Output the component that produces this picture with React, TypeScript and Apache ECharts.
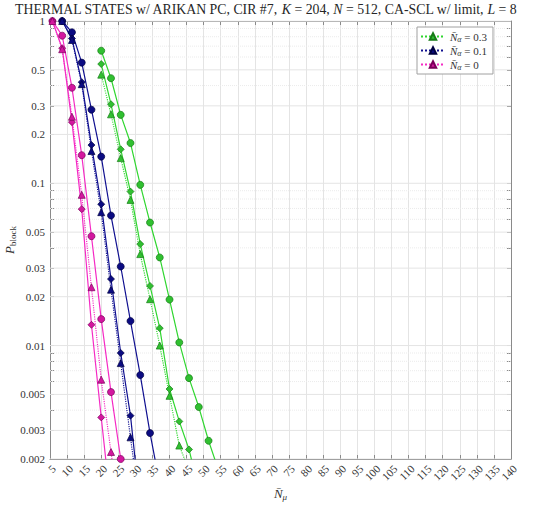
import React, { useEffect, useRef } from "react";
import * as echarts from "echarts";

// x positions of the evaluation points (N̄_μ)
const NMU = [5.71, 8.57, 11.43, 14.29, 17.14, 20, 22.86, 25.71, 28.57, 31.43, 34.29, 37.14, 40, 42.86, 45.71, 48.57, 51.43, 54.29];

// N̄_α = 0  (magenta)
const A0_START = 0;
const A0_CIRCLE = [1, 0.812, 0.388, 0.149, 0.0472, 0.01456, 0.00517, 0.002];
const A0_DIAMOND = [1, 0.68, 0.238, 0.0693, 0.01343, 0.00361, 0.001];
const A0_TRIANGLE = [1, 0.67, 0.257, 0.0849, 0.0229, 0.00616, 0.00221, 0.0008];

// N̄_α = 0.1 (navy)
const A1_START = 1;
const A1_CIRCLE = [1, 0.852, 0.554, 0.284, 0.146, 0.0633, 0.0307, 0.01416, 0.00658, 0.00289, 0.0014];
const A1_DIAMOND = [1, 0.78, 0.42, 0.172, 0.0743, 0.0257, 0.009, 0.0037, 0.001];
const A1_TRIANGLE = [1, 0.764, 0.408, 0.158, 0.0664, 0.0221, 0.0078, 0.00272, 0.00095];

// N̄_α = 0.3 (green)
const A3_START = 5;
const A3_CIRCLE = [0.656, 0.444, 0.264, 0.177, 0.0978, 0.0573, 0.0349, 0.0192, 0.01045, 0.0063, 0.00418, 0.00259, 0.00172];
const A3_DIAMOND = [0.543, 0.307, 0.162, 0.0889, 0.0422, 0.0233, 0.0128, 0.0054, 0.00341, 0.00229, 0.0013];
const A3_TRIANGLE = [0.467, 0.266, 0.143, 0.079, 0.0366, 0.0193, 0.01, 0.0049, 0.00242, 0.0017];

const X_RANGE = [5, 140];
const Y_MAJOR = [1, 0.5, 0.3, 0.2, 0.1, 0.05, 0.03, 0.02, 0.01, 0.005, 0.003, 0.002];
const Y_MINOR = [0.9, 0.8, 0.7, 0.6, 0.4, 0.09, 0.08, 0.07, 0.06, 0.04, 0.009, 0.008, 0.007, 0.006, 0.004];
const Y_ALL = [...Y_MAJOR, ...Y_MINOR];

const LEGEND_NAMES = ["α0.3", "α0.1", "α0"];
const LEGEND_VALUES = ["0.3", "0.1", "0"];

const SERIF = "'Liberation Serif', 'DejaVu Serif', serif";

const GREEN = { line: "#2fd62f", fill: "#30c030", edge: "#167a16" };
const NAVY = { line: "#101090", fill: "#0b0b82", edge: "#000040" };
const MAGENTA = { line: "#f52ac4", fill: "#d3179f", edge: "#7a005a" };

function mk(name: string, start: number, vals: number[], c: any, symbol: string, dotted: boolean, size: number) {
  return {
    type: "line",
    name,
    data: vals.map((v, i) => [NMU[start + i], v]),
    symbol,
    symbolSize: size,
    clip: true,
    z: 3,
    lineStyle: { color: c.line, width: dotted ? 1.15 : 1.2, type: dotted ? "dotted" : "solid" },
    itemStyle: { color: c.fill, borderColor: c.edge, borderWidth: 0.7, opacity: 1 },
    emphasis: { disabled: true },
  };
}

function gridSeries(v: number, major: boolean) {
  return {
    type: "line",
    name: "g" + v,
    data: X_RANGE.map((x) => [x, v]),
    symbol: "none",
    silent: true,
    z: 1,
    lineStyle: { color: major ? "#e4e4e4" : "#ebebeb", width: 1, type: major ? "solid" : "dotted" },
    emphasis: { disabled: true },
  };
}

export default function App() {
  const ref = useRef<HTMLDivElement>(null);
  useEffect(() => {
    const chart = echarts.init(ref.current!, null, { renderer: "svg" });
    const axisLineColor = "#8a8a8a";
    const option: any = {
      animation: false,
      backgroundColor: "#ffffff",
      title: {
        text: "{r|THERMAL STATES w/ ARIKAN PC, CIR #7, }{i|K}{r| = 204, }{i|N}{r| = 512, CA-SCL w/ limit, }{i|L}{r| = 8}",
        left: 15,
        top: 1,
        padding: 0,
        textStyle: {
          fontWeight: "normal",
          rich: {
            r: { fontFamily: SERIF, fontSize: 13.8, fontWeight: "normal", color: "#262626", lineHeight: 16 },
            i: { fontFamily: SERIF, fontSize: 13.8, fontWeight: "normal", color: "#262626", fontStyle: "italic", lineHeight: 16 },
          },
        },
      },
      legend: {
        data: LEGEND_NAMES,
        orient: "vertical",
        left: 417,
        top: 27,
        itemWidth: 24,
        itemHeight: 8,
        itemGap: 2,
        padding: [4, 6, 3, 3],
        backgroundColor: "#ffffff",
        borderColor: "#a0a0a0",
        borderWidth: 1,
        borderRadius: 0,
        formatter: (name: string) => {
          const v = LEGEND_VALUES[LEGEND_NAMES.indexOf(name)];
          return `{n|N\u0304}{s|α}{t| = ${v}}`;
        },
        textStyle: {
          rich: {
            n: { fontFamily: SERIF, fontSize: 11, fontStyle: "italic", color: "#333" },
            s: { fontFamily: SERIF, fontSize: 8, fontStyle: "italic", color: "#333", padding: [5, 0, 0, 0] },
            t: { fontFamily: SERIF, fontSize: 11, color: "#333" },
          },
        },
      },
      grid: { left: 50, right: 39, top: 21, bottom: 46, outerBoundsMode: "none", containLabel: false },
      xAxis: [
        {
          type: "value",
          min: X_RANGE[0],
          max: X_RANGE[1],
          interval: 5,
          name: "{n|N\u0304}{s|μ}",
          nameLocation: "middle",
          nameGap: 27,
          nameMoveOverlap: false,
          nameTextStyle: {
            rich: {
              n: { fontFamily: SERIF, fontSize: 13, fontStyle: "italic", color: "#333" },
              s: { fontFamily: SERIF, fontSize: 9, fontStyle: "italic", color: "#333", padding: [6, 0, 0, 0] },
            },
          },
          axisLine: { show: true, lineStyle: { color: axisLineColor, width: 1 } },
          axisTick: { show: true, inside: true, length: 4, lineStyle: { color: axisLineColor } },
          axisLabel: { rotate: 45, fontFamily: SERIF, fontSize: 11, color: "#333", margin: 4, verticalAlign: "top" },
          splitLine: { show: true, lineStyle: { color: "#e4e4e4", width: 1 } },
        },
        {
          type: "value",
          position: "top",
          min: X_RANGE[0],
          max: X_RANGE[1],
          interval: 5,
          axisLine: { show: true, lineStyle: { color: axisLineColor, width: 1 } },
          axisTick: { show: true, inside: true, length: 4, lineStyle: { color: axisLineColor } },
          axisLabel: { show: false },
          splitLine: { show: false },
        },
      ],
      yAxis: [
        {
          type: "log",
          logBase: 10,
          min: 0.002,
          max: 1,
          name: "{p|P}{s|block}",
          nameLocation: "middle",
          nameGap: 33,
          nameRotate: 90,
          nameMoveOverlap: false,
          nameTextStyle: {
            rich: {
              p: { fontFamily: SERIF, fontSize: 13, fontStyle: "italic", color: "#333" },
              s: { fontFamily: SERIF, fontSize: 9, color: "#333", padding: [6, 0, 0, 0] },
            },
          },
          axisLine: { show: true, lineStyle: { color: axisLineColor, width: 1 } },
          axisTick: { show: true, inside: true, length: 4, customValues: Y_ALL, lineStyle: { color: axisLineColor } },
          axisLabel: {
            customValues: Y_MAJOR,
            fontFamily: SERIF,
            fontSize: 11,
            color: "#333",
            margin: 5,
            formatter: (v: number) => `${+Number(v).toPrecision(3)}`,
          },
          splitLine: { show: false },
        },
        {
          type: "log",
          logBase: 10,
          min: 0.002,
          max: 1,
          position: "right",
          axisLine: { show: true, lineStyle: { color: axisLineColor, width: 1 } },
          axisTick: { show: true, inside: true, length: 4, customValues: Y_ALL, lineStyle: { color: axisLineColor } },
          axisLabel: { show: false },
          splitLine: { show: false },
        },
      ],
      series: [
        ...Y_MINOR.map((v) => gridSeries(v, false)),
        ...Y_MAJOR.map((v) => gridSeries(v, true)),
        mk("c0.3", A3_START, A3_CIRCLE, GREEN, "circle", false, 7),
        mk("d0.3", A3_START, A3_DIAMOND, GREEN, "diamond", false, 7),
        mk("α0.3", A3_START, A3_TRIANGLE, GREEN, "triangle", true, 7),
        mk("c0.1", A1_START, A1_CIRCLE, NAVY, "circle", false, 7),
        mk("d0.1", A1_START, A1_DIAMOND, NAVY, "diamond", false, 7),
        mk("α0.1", A1_START, A1_TRIANGLE, NAVY, "triangle", true, 7),
        mk("c0", A0_START, A0_CIRCLE, MAGENTA, "circle", false, 7),
        mk("d0", A0_START, A0_DIAMOND, MAGENTA, "diamond", false, 7),
        mk("α0", A0_START, A0_TRIANGLE, MAGENTA, "triangle", true, 7),
      ],
    };
    chart.setOption(option);
    return () => chart.dispose();
  }, []);
  return <div ref={ref} style={{ width: 550, height: 505, position: "absolute", left: 0, top: 0 }} />;
}
